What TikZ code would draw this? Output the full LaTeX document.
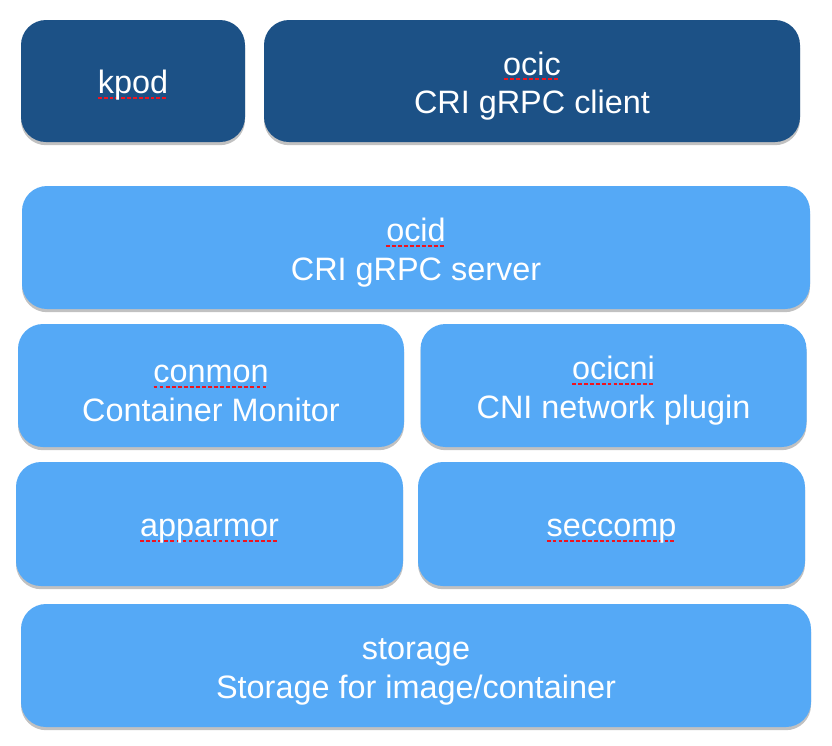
\documentclass[tikz,border=0pt]{standalone}
\usepackage{fontspec}
\setmainfont{Liberation Sans}
\usetikzlibrary{shadows}

\definecolor{darkblue}{HTML}{1C5186}
\definecolor{lightblue}{HTML}{55A9F6}
\definecolor{spellred}{HTML}{F0141E}

% red dotted mark under a word, as a spell checker shows it
\newsavebox{\spellbox}
\newcommand{\spellmark}[1]{\sbox{\spellbox}{#1}%
  \hbox{\rlap{\textcolor{spellred}{\hbox to \wd\spellbox{\xleaders\hbox{\rule[-2.6pt]{1.9pt}{1.1pt}\kern1pt}\hfill}}}\usebox{\spellbox}}}

\begin{document}
\begin{tikzpicture}[x=0.5pt,y=-0.5pt]

\tikzset{layer/.style = {shape=rectangle,rounded corners=12.5pt,fill=lightblue,
  text=white,align=center,font=\fontsize{16.2}{19.2}\selectfont,
  inner sep=0pt,minimum height=61.5pt,
  execute at begin node={\rule{0pt}{16.2pt}},
  drop shadow={shadow xshift=0pt,shadow yshift=-1.6pt,opacity=0.35,fill=black!70}}}
\tikzset{twoline/.style = {execute at begin node={\rule{0pt}{36pt}}}}
\tikzset{client/.style = {layer,fill=darkblue,minimum height=61pt}}

\useasboundingbox (0,0) rectangle (832,746);

% clients
\node[client,minimum width=112pt] (kpod) at (133,81) {\spellmark{kpod}};
\node[client,twoline,minimum width=268pt] (ocic) at (532,81) {\spellmark{ocic}\\CRI gRPC client};
% server
\node[layer,twoline,minimum width=394pt] (ocid) at (416,247.5) {\spellmark{ocid}\\CRI gRPC server};
% runtime
\node[layer,twoline,minimum width=193pt] (conmon) at (211,385.5) {\spellmark{conmon}\\Container Monitor};
\node[layer,twoline,minimum width=193pt] (ocicni) at (613.5,385.5) {\spellmark{ocicni}\\CNI network plugin};
\node[layer,minimum width=193.5pt,minimum height=62pt] (apparmor) at (209.5,524) {\spellmark{apparmor}};
\node[layer,minimum width=193.5pt,minimum height=62pt] (seccomp) at (611.5,524) {\spellmark{seccomp}};
% storage
\node[layer,twoline,minimum width=395pt] (storage) at (416,665.5) {storage\\Storage for image/container};

\end{tikzpicture}
\end{document}
